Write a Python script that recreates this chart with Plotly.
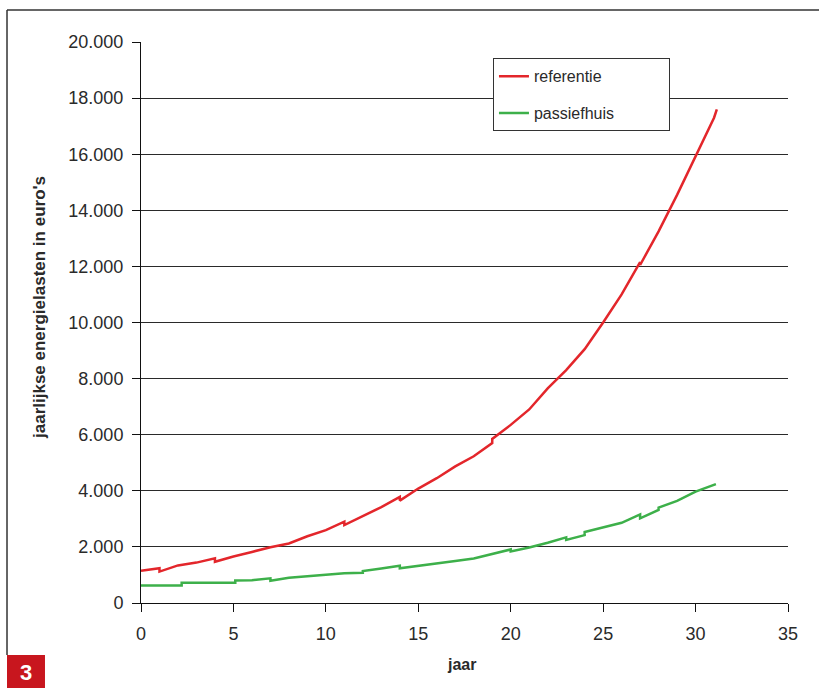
import plotly.graph_objects as go

# ---- data ----
ref_years = [0, 1, 1, 2, 3, 4, 4, 5, 6, 7, 8, 9, 10, 11, 11, 12, 13, 14, 14, 15, 16, 17, 18, 19, 19,
             20, 21, 22, 23, 24, 25, 26, 27, 27, 28, 29, 30, 31, 31.15]
ref_values = [1150, 1240, 1120, 1340, 1440, 1590, 1470, 1660, 1820, 1990, 2120, 2380, 2600, 2900, 2780,
              3100, 3420, 3780, 3650, 4080, 4450, 4870, 5230, 5700, 5850, 6350, 6900, 7650, 8300, 9050,
              10000, 11000, 12150, 12050, 13250, 14550, 15900, 17300, 17600]

pas_years = [0, 2.2, 2.2, 5.1, 5.1, 6, 7, 7, 8, 9, 10, 11, 12, 12, 13, 14, 14, 15, 16, 17, 18, 19, 20, 20,
             21, 22, 23, 23, 24, 24, 25, 26, 27, 27, 28, 28, 29, 30, 31.1]
pas_values = [620, 620, 720, 720, 800, 810, 880, 790, 900, 960, 1000, 1060, 1080, 1140, 1230, 1330, 1240,
              1320, 1410, 1500, 1590, 1750, 1910, 1840, 1980, 2150, 2340, 2250, 2420, 2530, 2700, 2860,
              3160, 3020, 3320, 3400, 3640, 3970, 4240]

series_names = ["referentie", "passiefhuis"]
x_ticks = [0, 5, 10, 15, 20, 25, 30, 35]
y_ticks = [0, 2000, 4000, 6000, 8000, 10000, 12000, 14000, 16000, 18000, 20000]

FONT = "Liberation Sans, Arial, sans-serif"
RED = "#E3262B"
GREEN = "#3DB04A"
TXT = "#2a2a2a"

fig = go.Figure()
fig.add_trace(go.Scatter(x=ref_years, y=ref_values, mode="lines",
                         name=series_names[0] + "\u00a0" * 14, legendgroup="a",
                         line=dict(color=RED, width=2.5)))
fig.add_trace(go.Scatter(x=pas_years, y=pas_values, mode="lines",
                         name=series_names[1] + "\u00a0" * 9, legendgroup="b",
                         line=dict(color=GREEN, width=2.5)))

fig.update_layout(
    width=819, height=688,
    margin=dict(l=141, r=31, t=42, b=85),
    paper_bgcolor="white", plot_bgcolor="white",
    font=dict(family=FONT, color=TXT, size=16),
    separators=",.",
    showlegend=True,
    legend=dict(x=0.544, y=0.971, xanchor="left", yanchor="top",
                bordercolor="#333", borderwidth=1, bgcolor="white",
                font=dict(size=16, family=FONT, color=TXT),
                tracegroupgap=13),
    xaxis=dict(range=[0, 35], tickvals=x_ticks, showgrid=False, zeroline=False,
               showline=True, linecolor="#111", linewidth=1,
               ticks="outside", ticklen=8, tickcolor="#111",
               ticklabelstandoff=6,
               tickfont=dict(size=18, family=FONT, color=TXT)),
    yaxis=dict(range=[0, 20000], tickvals=y_ticks, tickformat=",d",
               showgrid=True, gridcolor=TXT, gridwidth=1, zeroline=False,
               showline=True, linecolor="#111", linewidth=1,
               ticks="outside", ticklen=8, tickcolor="#111",
               ticklabelstandoff=5,
               tickfont=dict(size=18, family=FONT, color=TXT)),
)

# frame lines (open to the right/bottom as in the reference)
fig.add_shape(type="line", xref="paper", yref="paper", x0=-0.2071, x1=-0.2071, y0=1.057, y1=-0.0927,
              line=dict(color="#333", width=1.5))
fig.add_shape(type="line", xref="paper", yref="paper", x0=-0.2071, x1=1.06, y0=1.057, y1=1.057,
              line=dict(color="#333", width=1.5))
# red figure-number box
fig.add_shape(type="rect", xref="paper", yref="paper", x0=-0.2071, x1=-0.1484, y0=-0.1600, y1=-0.0927,
              line=dict(width=0), fillcolor="#C8161E")
fig.add_annotation(xref="paper", yref="paper", x=-0.1778, y=-0.1230, text="<b>3</b>", showarrow=False,
                   font=dict(size=22, color="white", family=FONT), xanchor="center", yanchor="middle")

# axis titles
fig.add_annotation(xref="paper", yref="paper", x=-0.156, y=0.526, text="<b>jaarlijkse energielasten in euro's</b>",
                   textangle=-90, showarrow=False, font=dict(size=17, family=FONT, color=TXT),
                   xanchor="center", yanchor="middle")
fig.add_annotation(xref="paper", yref="paper", x=0.495, y=-0.110, text="<b>jaar</b>",
                   showarrow=False, font=dict(size=16, family=FONT, color=TXT),
                   xanchor="center", yanchor="middle")

fig.write_html("out.html", config={"displayModeBar": False},
               post_script="document.body.style.margin='0';")
